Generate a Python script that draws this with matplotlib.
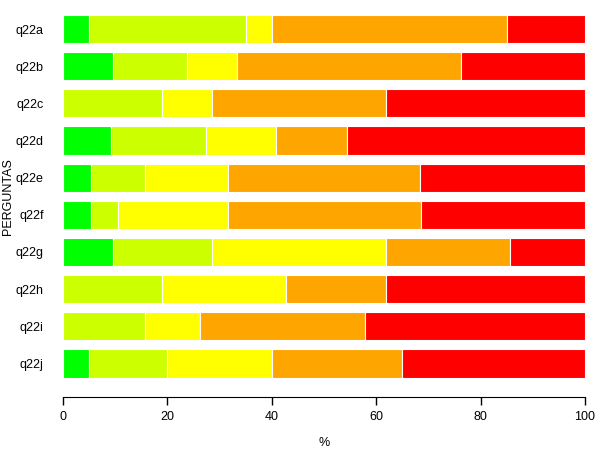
import numpy as np
import matplotlib
matplotlib.use('Agg')
import matplotlib.pyplot as plt

plt.rcParams['font.family'] = ['Liberation Sans', 'DejaVu Sans']

# questions, top to bottom
questions = ['q22a', 'q22b', 'q22c', 'q22d', 'q22e',
             'q22f', 'q22g', 'q22h', 'q22i', 'q22j']

# percentage of answers per level (green -> red)
green  = [5.0,  9.5,  0.0,  9.1,  5.3,  5.3,  9.5,  0.0,  0.0,  5.0]
lime   = [30.0, 14.3, 19.0, 18.2, 10.5, 5.3,  19.0, 19.0, 15.8, 15.0]
yellow = [5.0,  9.5,  9.5,  13.6, 15.8, 21.1, 33.3, 23.8, 10.5, 20.0]
orange = [45.0, 42.9, 33.3, 13.6, 36.8, 36.8, 23.8, 19.0, 31.6, 25.0]
red    = [15.0, 23.8, 38.2, 45.5, 31.6, 31.5, 14.4, 38.2, 42.1, 35.0]

series = [green, lime, yellow, orange, red]
colors = ['#00ff00', '#ccff00', '#ffff00', '#ffa500', '#ff0000']

fig = plt.figure(figsize=(6, 4.5), dpi=100)
ax = fig.add_axes([0.105, 0.1427, 0.87, 0.8424])

y = np.arange(len(questions))[::-1]
left = np.zeros(len(questions))
for vals, col in zip(series, colors):
    vals = np.array(vals)
    ax.barh(y, vals, left=left, height=0.76, color=col,
            edgecolor='white', linewidth=0.8)
    left += vals

ax.set_xlim(0, 100)
ax.set_ylim(-0.6, 9.6)
ax.set_yticks(y)
ax.set_yticklabels(questions, fontsize=9)
ax.tick_params(axis='y', length=0, pad=14)
ax.set_xticks([0, 20, 40, 60, 80, 100])
ax.tick_params(axis='x', length=5.5, width=1, labelsize=9, pad=4.5)

for s in ['top', 'right', 'left']:
    ax.spines[s].set_visible(False)
ax.spines['bottom'].set_position(('outward', 8))
ax.spines['bottom'].set_bounds(0, 100)

ax.set_xlabel('%', fontsize=9, labelpad=10)
ax.set_ylabel('PERGUNTAS', fontsize=9)
ax.yaxis.set_label_coords(-0.093, 0.5)

fig.savefig('out.png', dpi=100)
